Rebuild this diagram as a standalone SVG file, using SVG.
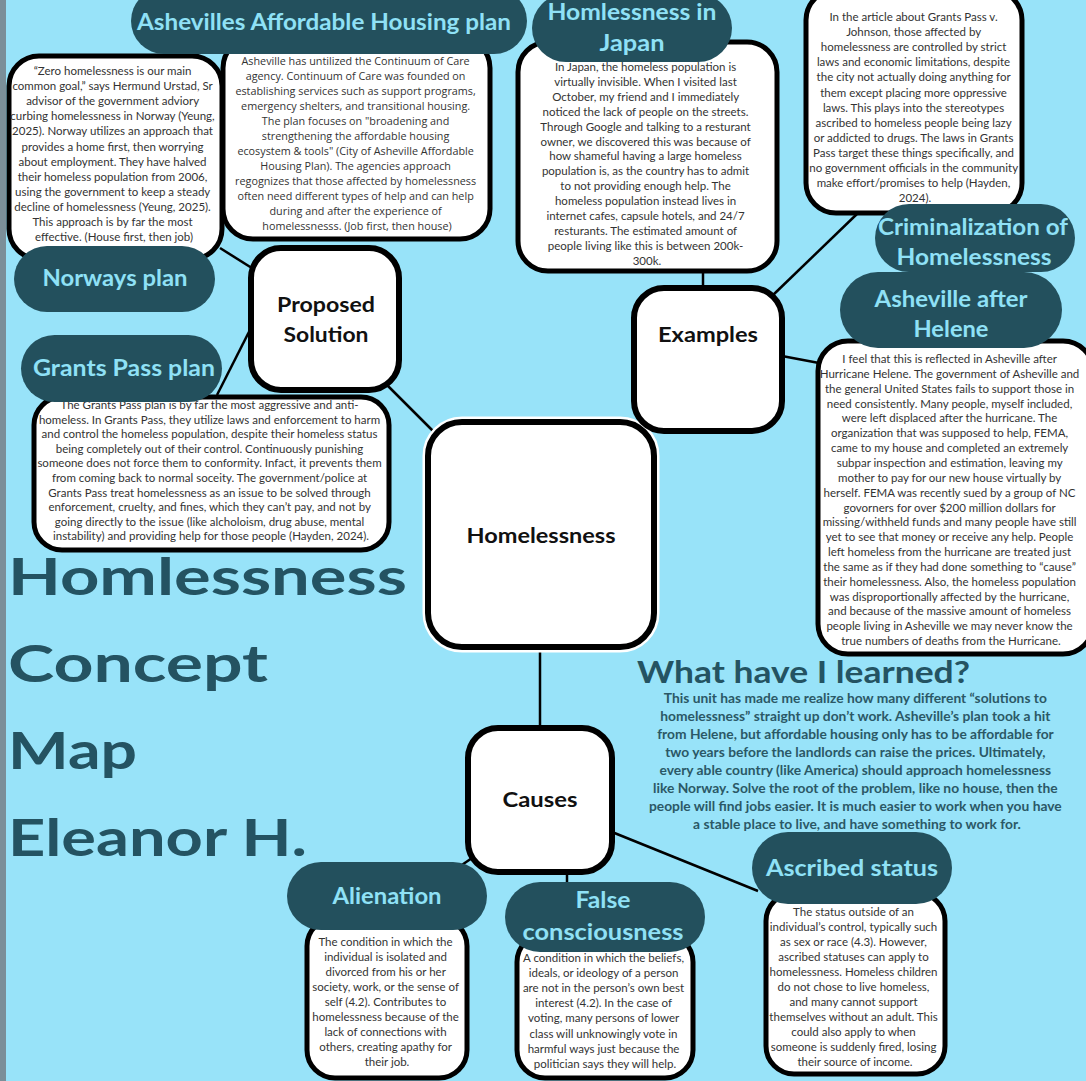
<svg xmlns="http://www.w3.org/2000/svg" width="1086" height="1081" viewBox="0 0 1086 1081">
<style>
.bg{fill:#98E3F9}
.box{fill:#fff;stroke:#000;stroke-width:5}
.node{fill:#fff;stroke:#000;stroke-width:6}
.pill{fill:#23505D}
.pt{font-family:Lato,"Noto Sans",sans-serif;font-weight:700;font-size:22px;fill:#8FE1F6;text-anchor:middle}
.nt{font-family:Lato,"Noto Sans",sans-serif;font-weight:700;font-size:21px;fill:#111;text-anchor:middle}
.bt{font-family:Lato,"Noto Sans",sans-serif;font-size:11.5px;fill:#333;text-anchor:middle}
.ot{font-family:"Open Sans","Noto Sans",sans-serif;font-size:10.8px;fill:#333;text-anchor:middle}
.title{font-family:Lato,"Noto Sans",sans-serif;font-weight:700;font-size:51px;fill:#245362}
.lt{font-family:Lato,"Noto Sans",sans-serif;font-weight:700;font-size:13.8px;fill:#2B5866;text-anchor:middle}
.conn line{stroke:#000;stroke-width:2.5}
</style>
<rect class="bg" x="0" y="0" width="1086" height="1081"/>
<rect x="0" y="0" width="6" height="1081" fill="#7B8F99"/>

<g id="connectors" class="conn">
<line x1="386" y1="384" x2="434" y2="432"/>
<line x1="255" y1="270" x2="220" y2="248"/>
<line x1="256" y1="318" x2="217" y2="395"/>
<line x1="644" y1="431" x2="654" y2="418"/>
<line x1="772" y1="296" x2="858" y2="213"/>
<line x1="782" y1="356" x2="819" y2="363"/>
<line x1="703" y1="270" x2="703" y2="289"/>
<line x1="540" y1="650" x2="540" y2="728"/>
<line x1="472" y1="858" x2="456" y2="869"/>
<line x1="567" y1="870" x2="567" y2="884"/>
<line x1="612" y1="832" x2="758" y2="891"/>
</g>

<g id="title">
<text class="title" x="8" y="595" textLength="399" lengthAdjust="spacingAndGlyphs">Homlessness</text>
<text class="title" x="8" y="682" textLength="260" lengthAdjust="spacingAndGlyphs">Concept</text>
<text class="title" x="8" y="769" textLength="129" lengthAdjust="spacingAndGlyphs">Map</text>
<text class="title" x="8" y="856" textLength="299" lengthAdjust="spacingAndGlyphs">Eleanor H.</text>
</g>

<g id="homelessness">
<rect x="424" y="418" width="234" height="233" rx="38" fill="none" stroke="#fff" stroke-width="3"/>
<rect class="node" x="428" y="422" width="226" height="225" rx="34"/>
<text class="nt" x="541" y="543" textLength="149" lengthAdjust="spacingAndGlyphs">Homelessness</text>
</g>

<g id="causes">
<rect class="node" x="468" y="728" width="144" height="144" rx="30"/>
<text class="nt" x="540" y="807" textLength="75" lengthAdjust="spacingAndGlyphs">Causes</text>
</g>

<g id="proposed-solution">
<rect class="node" x="251" y="248" width="148" height="142" rx="30"/>
<text class="nt" x="326" y="312" textLength="98" lengthAdjust="spacingAndGlyphs">Proposed</text>
<text class="nt" x="326" y="342" textLength="85" lengthAdjust="spacingAndGlyphs">Solution</text>
</g>

<g id="examples">
<rect class="node" x="634" y="288" width="148" height="143" rx="30"/>
<text class="nt" x="708" y="342" textLength="100" lengthAdjust="spacingAndGlyphs">Examples</text>
</g>

<g id="norway">
<rect class="box" x="9" y="56" width="213" height="203" rx="30"/>
<text class="bt" x="114" y="75">
<tspan x="114" dy="0">“Zero homelessness is our main</tspan>
<tspan x="114" dy="15.1">common goal,” says Hermund Urstad, Sr</tspan>
<tspan x="114" dy="15.1">advisor of the government adviory</tspan>
<tspan x="114" dy="15.1">curbing homelessness in Norway (Yeung,</tspan>
<tspan x="114" dy="15.1">2025). Norway utilizes an approach that</tspan>
<tspan x="114" dy="15.1">provides a home first, then worrying</tspan>
<tspan x="114" dy="15.1">about employment. They have halved</tspan>
<tspan x="114" dy="15.1">their homeless population from 2006,</tspan>
<tspan x="114" dy="15.1">using the government to keep a steady</tspan>
<tspan x="114" dy="15.1">decline of homelessness (Yeung, 2025).</tspan>
<tspan x="114" dy="15.1">This approach is by far the most</tspan>
<tspan x="114" dy="15.1">effective. (House first, then job)</tspan>
</text>
<rect class="pill" x="14" y="246" width="201" height="66" rx="33"/>
<text class="pt" x="115" y="286" textLength="145" lengthAdjust="spacingAndGlyphs">Norways plan</text>
</g>

<g id="asheville-plan">
<rect class="box" x="223" y="38" width="267" height="201" rx="30"/>
<text class="ot" x="357" y="65">
<tspan x="357" dy="0">Asheville has untilized the Continuum of Care</tspan>
<tspan x="357" dy="15">agency. Continuum of Care was founded on</tspan>
<tspan x="357" dy="15">establishing services such as support programs,</tspan>
<tspan x="357" dy="15">emergency shelters, and transitional housing.</tspan>
<tspan x="357" dy="15">The plan focuses on "broadening and</tspan>
<tspan x="357" dy="15">strengthening the affordable housing</tspan>
<tspan x="357" dy="15">ecosystem &amp; tools" (City of Asheville Affordable</tspan>
<tspan x="357" dy="15">Housing Plan). The agencies approach</tspan>
<tspan x="357" dy="15">regognizes that those affected by homelessness</tspan>
<tspan x="357" dy="15">often need different types of help and can help</tspan>
<tspan x="357" dy="15">during and after the experience of</tspan>
<tspan x="357" dy="15">homelessnesss. (Job first, then house)</tspan>
</text>
<rect class="pill" x="131" y="-12" width="396" height="66" rx="33"/>
<text class="pt" x="324" y="30" textLength="374" lengthAdjust="spacingAndGlyphs">Ashevilles Affordable Housing plan</text>
</g>

<g id="japan">
<rect class="box" x="518" y="42" width="259" height="229" rx="30"/>
<text class="bt" x="647" y="71">
<tspan x="647" dy="0">In Japan, the homeless population is</tspan>
<tspan x="647" dy="14.9">virtually invisible. When I visited last</tspan>
<tspan x="647" dy="14.9">October, my friend and I immediately</tspan>
<tspan x="647" dy="14.9">noticed the lack of people on the streets.</tspan>
<tspan x="647" dy="14.9">Through Google and talking to a resturant</tspan>
<tspan x="647" dy="14.9">owner, we discovered this was because of</tspan>
<tspan x="647" dy="14.9">how shameful having a large homeless</tspan>
<tspan x="647" dy="14.9">population is, as the country has to admit</tspan>
<tspan x="647" dy="14.9">to not providing enough help. The</tspan>
<tspan x="647" dy="14.9">homeless population instead lives in</tspan>
<tspan x="647" dy="14.9">internet cafes, capsule hotels, and 24/7</tspan>
<tspan x="647" dy="14.9">resturants. The estimated amount of</tspan>
<tspan x="647" dy="14.9">people living like this is between 200k-</tspan>
<tspan x="647" dy="14.9">300k.</tspan>
</text>
<rect class="pill" x="532" y="-6" width="200" height="68" rx="34"/>
<text class="pt" x="632" y="20" textLength="169" lengthAdjust="spacingAndGlyphs">Homlessness in</text>
<text class="pt" x="632" y="51" textLength="65" lengthAdjust="spacingAndGlyphs">Japan</text>
</g>

<g id="grants-pass-article">
<rect class="box" x="806" y="-10" width="216" height="223" rx="30"/>
<text class="bt" x="915" y="21">
<tspan x="915" dy="0">In the article about Grants Pass v.</tspan>
<tspan x="915" dy="15.1">Johnson, those affected by</tspan>
<tspan x="915" dy="15.1">homelessness are controlled by strict</tspan>
<tspan x="915" dy="15.1">laws and economic limitations, despite</tspan>
<tspan x="915" dy="15.1">the city not actually doing anything for</tspan>
<tspan x="915" dy="15.1">them except placing more oppressive</tspan>
<tspan x="915" dy="15.1">laws. This plays into the stereotypes</tspan>
<tspan x="915" dy="15.1">ascribed to homeless people being lazy</tspan>
<tspan x="915" dy="15.1">or addicted to drugs. The laws in Grants</tspan>
<tspan x="915" dy="15.1">Pass target these things specifically, and</tspan>
<tspan x="915" dy="15.1">no government officials in the community</tspan>
<tspan x="915" dy="15.1">make effort/promises to help (Hayden,</tspan>
<tspan x="915" dy="15.1">2024).</tspan>
</text>
</g>

<g id="criminalization">
<rect class="pill" x="875" y="204" width="200" height="68" rx="34"/>
<text class="pt" x="973" y="235" textLength="190" lengthAdjust="spacingAndGlyphs">Criminalization of</text>
<text class="pt" x="974" y="265" textLength="155" lengthAdjust="spacingAndGlyphs">Homelessness</text>
</g>

<g id="asheville-helene">
<rect class="box" x="818" y="341" width="275" height="313" rx="30"/>
<text class="bt" x="951" y="363">
<tspan x="951" dy="0">I feel that this is reflected in Asheville after</tspan>
<tspan x="951" dy="14.85">Hurricane Helene. The government of Asheville and</tspan>
<tspan x="951" dy="14.85">the general United States fails to support those in</tspan>
<tspan x="951" dy="14.85">need consistently. Many people, myself included,</tspan>
<tspan x="951" dy="14.85">were left displaced after the hurricane. The</tspan>
<tspan x="951" dy="14.85">organization that was supposed to help, FEMA,</tspan>
<tspan x="951" dy="14.85">came to my house and completed an extremely</tspan>
<tspan x="951" dy="14.85">subpar inspection and estimation, leaving my</tspan>
<tspan x="951" dy="14.85">mother to pay for our new house virtually by</tspan>
<tspan x="951" dy="14.85">herself. FEMA was recently sued by a group of NC</tspan>
<tspan x="951" dy="14.85">govorners for over $200 million dollars for</tspan>
<tspan x="951" dy="14.85">missing/withheld funds and many people have still</tspan>
<tspan x="951" dy="14.85">yet to see that money or receive any help. People</tspan>
<tspan x="951" dy="14.85">left homeless from the hurricane are treated just</tspan>
<tspan x="951" dy="14.85">the same as if they had done something to “cause”</tspan>
<tspan x="951" dy="14.85">their homelessness. Also, the homeless population</tspan>
<tspan x="951" dy="14.85">was disproportionally affected by the hurricane,</tspan>
<tspan x="951" dy="14.85">and because of the massive amount of homeless</tspan>
<tspan x="951" dy="14.85">people living in Asheville we may never know the</tspan>
<tspan x="951" dy="14.85">true numbers of deaths from the Hurricane.</tspan>
</text>
<rect class="pill" x="840" y="272" width="222" height="76" rx="38"/>
<text class="pt" x="951" y="307" textLength="153" lengthAdjust="spacingAndGlyphs">Asheville after</text>
<text class="pt" x="951" y="337" textLength="75" lengthAdjust="spacingAndGlyphs">Helene</text>
</g>

<g id="grants-pass-plan">
<rect class="box" x="34" y="397" width="355" height="153" rx="28"/>
<text class="bt" x="211" y="409">
<tspan x="211" dy="0">The Grants Pass plan is by far the most aggressive and anti-</tspan>
<tspan x="211" dy="14.6">homeless. In Grants Pass, they utilize laws and enforcement to harm</tspan>
<tspan x="211" dy="14.6">and control the homeless population, despite their homeless status</tspan>
<tspan x="211" dy="14.6">being completely out of their control. Continuously punishing</tspan>
<tspan x="211" dy="14.6">someone does not force them to conformity. Infact, it prevents them</tspan>
<tspan x="211" dy="14.6">from coming back to normal soceity. The government/police at</tspan>
<tspan x="211" dy="14.6">Grants Pass treat homelessness as an issue to be solved through</tspan>
<tspan x="211" dy="14.6">enforcement, cruelty, and fines, which they can’t pay, and not by</tspan>
<tspan x="211" dy="14.6">going directly to the issue (like alcholoism, drug abuse, mental</tspan>
<tspan x="211" dy="14.6">instability) and providing help for those people (Hayden, 2024).</tspan>
</text>
<rect class="pill" x="21" y="335" width="201" height="67" rx="33.5"/>
<text class="pt" x="124" y="376" textLength="182" lengthAdjust="spacingAndGlyphs">Grants Pass plan</text>
</g>

<g id="what-learned">
<text x="637" y="683" font-family="Lato,'Noto Sans',sans-serif" font-weight="700" font-size="31" fill="#245362" textLength="333" lengthAdjust="spacingAndGlyphs">What have I learned?</text>
<text class="lt" x="857" y="703">
<tspan x="857" dy="0">This unit has made me realize how many different “solutions to</tspan>
<tspan x="857" dy="18">homelessness” straight up don’t work. Asheville’s plan took a hit</tspan>
<tspan x="857" dy="18">from Helene, but affordable housing only has to be affordable for</tspan>
<tspan x="857" dy="18">two years before the landlords can raise the prices. Ultimately,</tspan>
<tspan x="857" dy="18">every able country (like America) should approach homelessness</tspan>
<tspan x="857" dy="18">like Norway. Solve the root of the problem, like no house, then the</tspan>
<tspan x="857" dy="18">people will find jobs easier. It is much easier to work when you have</tspan>
<tspan x="857" dy="18">a stable place to live, and have something to work for.</tspan>
</text>
</g>

<g id="alienation">
<rect class="box" x="307" y="918" width="160" height="160" rx="28"/>
<text class="bt" x="387" y="946">
<tspan x="387" dy="0">The condition in which the</tspan>
<tspan x="387" dy="15">individual is isolated and</tspan>
<tspan x="387" dy="15">divorced from his or her</tspan>
<tspan x="387" dy="15">society, work, or the sense of</tspan>
<tspan x="387" dy="15">self (4.2). Contributes to</tspan>
<tspan x="387" dy="15">homelessness because of the</tspan>
<tspan x="387" dy="15">lack of connections with</tspan>
<tspan x="387" dy="15">others, creating apathy for</tspan>
<tspan x="387" dy="15">their job.</tspan>
</text>
<rect class="pill" x="287" y="862" width="200" height="68" rx="34"/>
<text class="pt" x="387" y="904" textLength="109" lengthAdjust="spacingAndGlyphs">Alienation</text>
</g>

<g id="false-consciousness">
<rect class="box" x="517" y="934" width="176" height="144" rx="28"/>
<text class="bt" x="605" y="962">
<tspan x="605" dy="0">A condition in which the beliefs,</tspan>
<tspan x="605" dy="15.1">ideals, or ideology of a person</tspan>
<tspan x="605" dy="15.1">are not in the person’s own best</tspan>
<tspan x="605" dy="15.1">interest (4.2). In the case of</tspan>
<tspan x="605" dy="15.1">voting, many persons of lower</tspan>
<tspan x="605" dy="15.1">class will unknowingly vote in</tspan>
<tspan x="605" dy="15.1">harmful ways just because the</tspan>
<tspan x="605" dy="15.1">politician says they will help.</tspan>
</text>
<rect class="pill" x="505" y="882" width="200" height="70" rx="35"/>
<text class="pt" x="603" y="908" textLength="55" lengthAdjust="spacingAndGlyphs">False</text>
<text class="pt" x="603" y="940" textLength="161" lengthAdjust="spacingAndGlyphs">consciousness</text>
</g>

<g id="ascribed-status">
<rect class="box" x="766" y="893" width="179" height="181" rx="28"/>
<text class="bt" x="855" y="916">
<tspan x="855" dy="0">The status outside of an</tspan>
<tspan x="855" dy="15">individual’s control, typically such</tspan>
<tspan x="855" dy="15">as sex or race (4.3). However,</tspan>
<tspan x="855" dy="15">ascribed statuses can apply to</tspan>
<tspan x="855" dy="15">homelessness. Homeless children</tspan>
<tspan x="855" dy="15">do not chose to live homeless,</tspan>
<tspan x="855" dy="15">and many cannot support</tspan>
<tspan x="855" dy="15">themselves without an adult. This</tspan>
<tspan x="855" dy="15">could also apply to when</tspan>
<tspan x="855" dy="15">someone is suddenly fired, losing</tspan>
<tspan x="855" dy="15">their source of income.</tspan>
</text>
<rect class="pill" x="752" y="832" width="200" height="72" rx="36"/>
<text class="pt" x="852" y="876" textLength="172" lengthAdjust="spacingAndGlyphs">Ascribed status</text>
</g>
</svg>
